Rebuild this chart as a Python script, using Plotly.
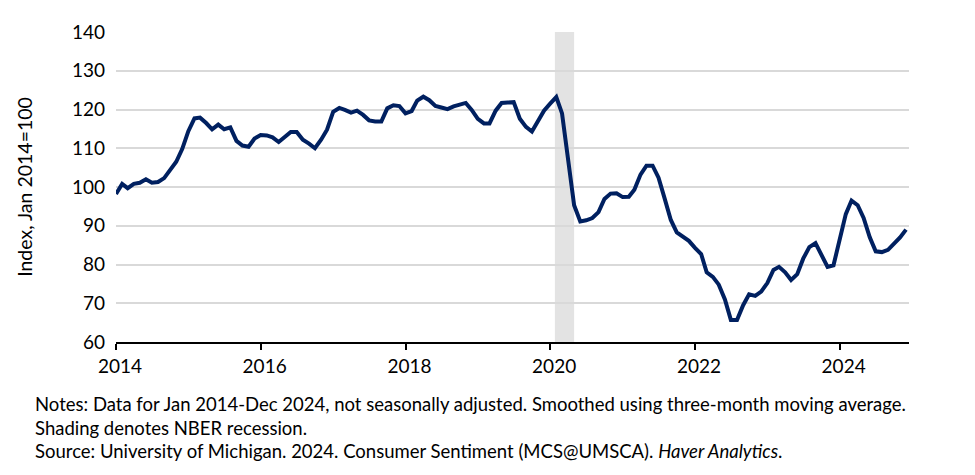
import pandas as pd
import plotly.graph_objects as go

# Monthly dates Jan 2014 - Dec 2024
months = pd.date_range(start="2014-01-01", periods=132, freq="MS")

values_2014 = [98.2, 100.8, 99.7, 100.8, 101.1, 102.0, 101.1, 101.3, 102.3, 104.3, 106.5, 109.8]
values_2015 = [114.4, 117.7, 117.9, 116.5, 114.9, 116.1, 114.9, 115.4, 111.9, 110.7, 110.4, 112.5]
values_2016 = [113.4, 113.3, 112.8, 111.6, 112.9, 114.2, 114.2, 112.2, 111.2, 110.0, 112.2, 114.8]
values_2017 = [119.4, 120.4, 119.9, 119.2, 119.7, 118.6, 117.2, 116.9, 116.9, 120.3, 121.1, 120.9]
values_2018 = [119.0, 119.6, 122.3, 123.3, 122.4, 120.9, 120.5, 120.1, 120.8, 121.2, 121.7, 119.9]
values_2019 = [117.6, 116.4, 116.4, 119.7, 121.7, 121.8, 121.9, 117.6, 115.5, 114.3, 117.2, 119.7]
values_2020 = [121.5, 123.2, 119.0, 107.0, 95.3, 91.1, 91.4, 92.0, 93.5, 96.9, 98.3, 98.4]
values_2021 = [97.4, 97.5, 99.3, 103.2, 105.5, 105.5, 102.4, 97.0, 91.5, 88.3, 87.1, 86.1]
values_2022 = [84.3, 82.7, 78.0, 76.8, 74.8, 71.0, 65.7, 65.7, 69.5, 72.3, 71.9, 73.0]
values_2023 = [75.2, 78.6, 79.4, 78.0, 76.0, 77.5, 81.5, 84.5, 85.5, 82.5, 79.4, 79.8]
values_2024 = [87.0, 93.0, 96.5, 95.3, 92.0, 87.0, 83.4, 83.2, 83.8, 85.3, 87.0, 89.0]

index_values = (values_2014 + values_2015 + values_2016 + values_2017 + values_2018 +
                values_2019 + values_2020 + values_2021 + values_2022 + values_2023 + values_2024)

recession_start = "2020-01-25"
recession_end = "2020-05-01"

y_ticks = [60, 70, 80, 90, 100, 110, 120, 130, 140]
x_ticks = ["2014-01-01", "2016-01-01", "2018-01-01", "2020-01-01", "2022-01-01", "2024-01-01"]
x_tick_labels = ["2014", "2016", "2018", "2020", "2022", "2024"]

font_family = "Lato, 'Liberation Sans', sans-serif"

fig = go.Figure()
fig.add_trace(go.Scatter(
    x=months, y=index_values, mode="lines",
    line=dict(color="#002060", width=4),
    hoverinfo="x+y", showlegend=False,
))

fig.add_shape(type="rect", xref="x", yref="paper",
              x0=recession_start, x1=recession_end, y0=0, y1=1,
              fillcolor="#e3e3e3", line_width=0, layer="between")

# The page body has an 8px margin, so the figure is sized to fit the window.
fig.update_layout(
    width=967, height=467,
    margin=dict(l=108, r=66, t=14, b=133),
    paper_bgcolor="white", plot_bgcolor="white",
    font=dict(family=font_family, size=19, color="#000000"),
    xaxis=dict(
        type="date", range=["2014-01-01", "2024-12-16"],
        tickvals=x_ticks, ticktext=x_tick_labels,
        showgrid=False, showline=True, linecolor="#000000", linewidth=2,
        ticks="outside", ticklen=6, tickwidth=2, tickcolor="#000000",
        zeroline=False, tickfont=dict(size=19), ticklabelshift=4,
    ),
    yaxis=dict(
        range=[60, 140], tickvals=y_ticks,
        showgrid=True, gridcolor="#d9d9d9", gridwidth=1.5,
        showline=False, zeroline=False, ticks="", ticklabelstandoff=10,
        tickfont=dict(size=19),
        title=dict(text="Index, Jan 2014=100", font=dict(size=19.5), standoff=34),
    ),
)

notes = [
    "Notes: Data for Jan 2014-Dec 2024, not seasonally adjusted. Smoothed using three-month moving average.",
    "Shading denotes NBER recession.",
    "Source: University of Michigan. 2024. Consumer Sentiment (MCS@UMSCA). <i>Haver Analytics</i>.",
]
for i, line in enumerate(notes):
    fig.add_annotation(
        text=line, xref="paper", yref="paper",
        x=-83 / 793, y=0, xanchor="left", yanchor="middle",
        yshift=-(62 + 23.5 * i), showarrow=False, align="left",
        font=dict(size=18.5, family=font_family),
    )

fig.write_html("out.html")
